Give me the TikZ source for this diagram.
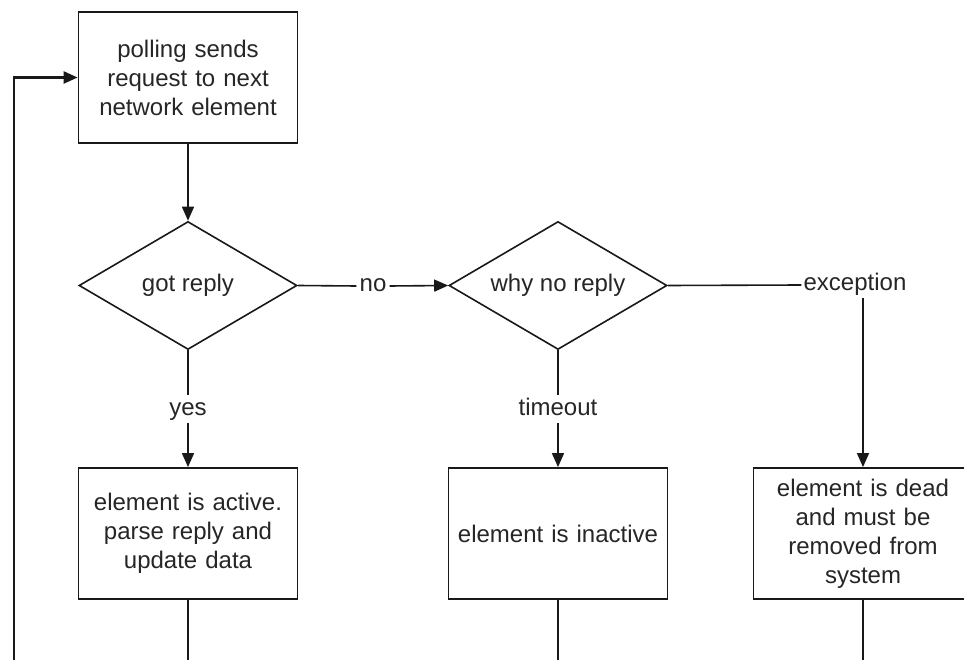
\documentclass[tikz,border=0pt]{standalone}
\usepackage{fontspec}
\setmainfont{Liberation Sans}
\usetikzlibrary{shapes.geometric,arrows.meta}
\begin{document}
\begin{tikzpicture}[x=1pt,y=-1pt,
  every node/.style={font=\fontsize{24}{29}\selectfont, text=black!85},
  procbox/.style={draw=black!90, line width=1.8pt, fill=white, minimum width=219pt, minimum height=131pt, inner sep=0pt, align=center, text width=205pt},
  decision/.style={draw=black!90, line width=1.6pt, diamond, aspect=1.7, minimum width=218pt, minimum height=128pt, inner sep=0pt, align=center},
  lbl/.style={inner sep=3pt, text height=17pt, text depth=5pt},
  conn/.style={draw=black!90, line width=1.6pt},
  arr/.style={conn, -{Triangle[length=14pt,width=12pt]}}
]
\useasboundingbox (0,0) rectangle (964,660);
\clip (0,0) rectangle (964,660);
\fill[white] (0,0) rectangle (964,660);

\node[procbox] (top) at (188,77.5) {polling sends\\request to next\\network element};
\node[decision] (d1) at (188,285.5) {got reply};
\node[decision] (d2) at (558,285.5) {why no reply};
\node[procbox] (b1) at (188,533.5) {element is active.\\parse reply and\\update data};
\node[procbox] (b2) at (558,533.5) {element is inactive};
\node[procbox] (b3) at (863,533.5) {element is dead\\and must be\\removed from\\system};

\node[lbl] (no) at (373,286) {no};
\node[lbl] (yes) at (188,409) {yes};
\node[lbl] (tmo) at (558,409) {timeout};
\node[lbl, inner sep=2pt] (exc) at (855,285) {exception};

\coordinate (loop) at (14,680);
\coordinate (e1) at (188,680);
\coordinate (e2) at (558,680);
\coordinate (e3) at (863,680);

\draw[arr] (top.south) -- (d1.north);
\draw[conn] (d1.east) -- (no.west);
\draw[arr] (no.east) -- (d2.west);
\draw[conn] (d1.south) -- (yes.north);
\draw[arr] (yes.south) -- (b1.north);
\draw[conn] (d2.south) -- (tmo.north);
\draw[arr] (tmo.south) -- (b2.north);
\draw[conn] (d2.east) -- (exc.west);
\draw[arr] (b3.north |- exc.south) -- (b3.north);
\draw[conn] (b1.south) -- (e1);
\draw[conn] (b2.south) -- (e2);
\draw[conn] (b3.south) -- (e3);
\draw[arr, line width=2.4pt] (loop) |- (top.west);
\end{tikzpicture}
\end{document}
